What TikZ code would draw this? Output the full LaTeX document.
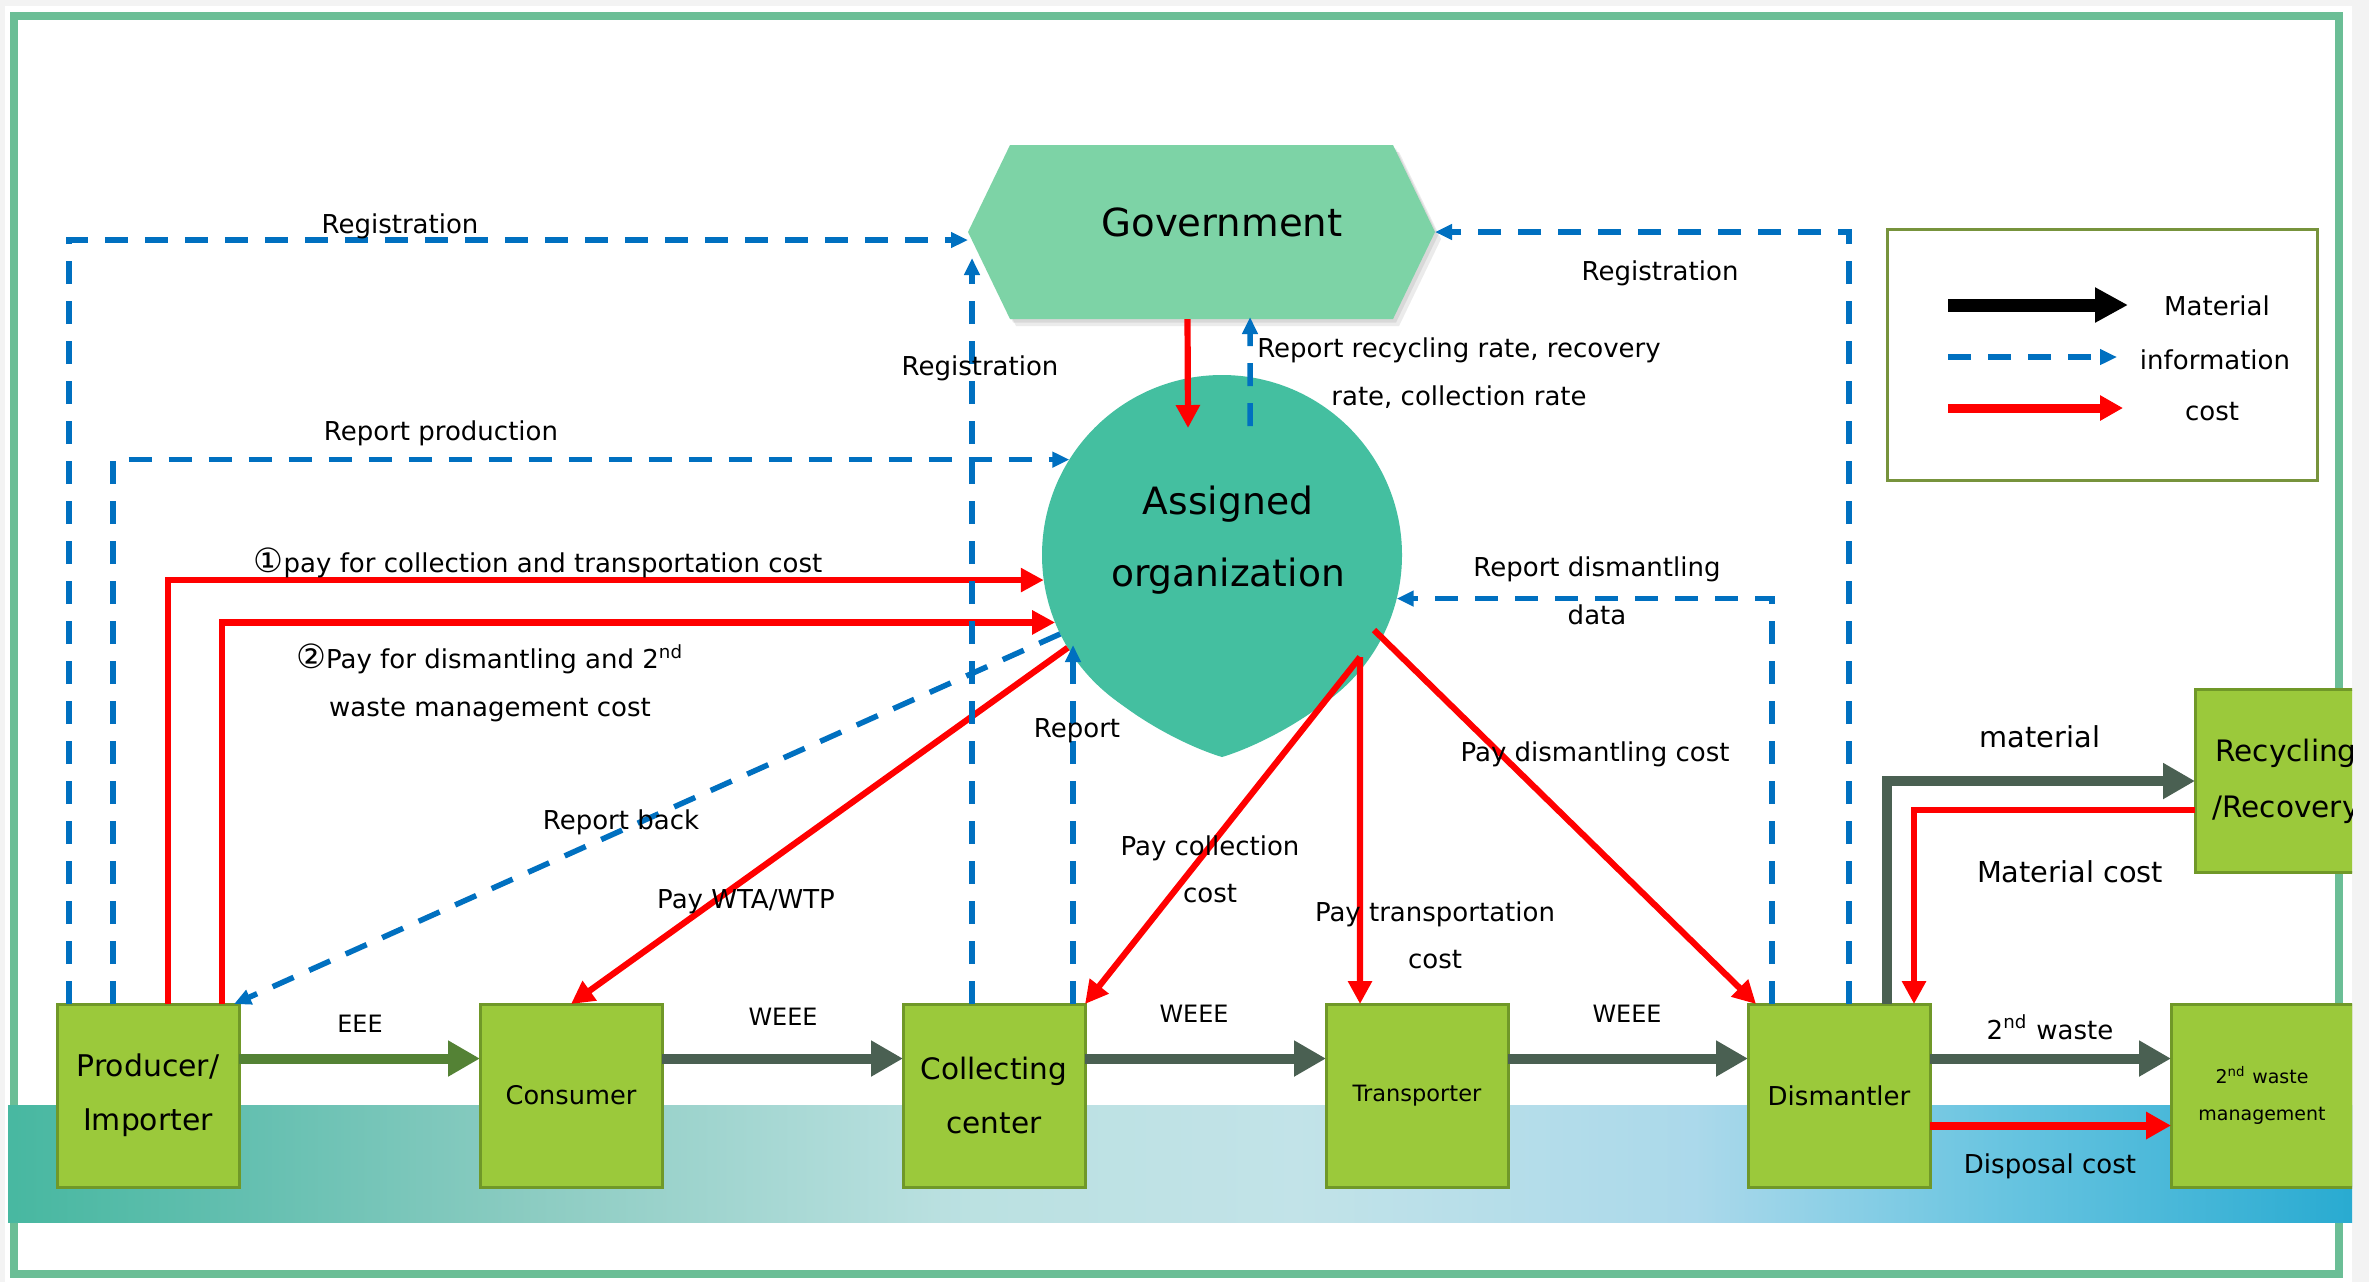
\documentclass[tikz,border=0pt]{standalone}
\usepackage{fontspec}
\setmainfont{DejaVu Sans}
\usetikzlibrary{arrows.meta,calc}
\definecolor{infoblue}{RGB}{0,112,192}
\definecolor{costred}{RGB}{255,0,0}
\definecolor{matgrey}{RGB}{74,96,82}
\definecolor{eeegreen}{RGB}{84,130,53}
\definecolor{boxfill}{RGB}{155,201,59}
\definecolor{boxline}{RGB}{112,152,40}
\definecolor{govfill}{RGB}{125,211,166}
\definecolor{aofill}{RGB}{68,191,160}
\definecolor{framegreen}{RGB}{107,190,150}
\definecolor{legline}{RGB}{119,147,60}
\definecolor{pagegrey}{RGB}{243,243,243}
\pgfdeclarehorizontalshading{bandshade}{100bp}{rgb(0bp)=(0.28,0.72,0.63); rgb(25bp)=(0.28,0.72,0.63); rgb(30bp)=(0.39,0.75,0.69); rgb(36.25bp)=(0.55,0.80,0.76); rgb(45bp)=(0.73,0.88,0.88); rgb(52.5bp)=(0.76,0.89,0.91); rgb(61bp)=(0.67,0.85,0.92); rgb(67.5bp)=(0.41,0.77,0.88); rgb(75bp)=(0.16,0.67,0.82); rgb(100bp)=(0.16,0.67,0.82)}
\begin{document}
\begin{tikzpicture}[x=0.1mm,y=-0.1mm,
  box/.style={draw=boxline, line width=0.3mm, fill=boxfill, minimum width=18.2mm, minimum height=18.3mm, inner sep=0pt, outer sep=0pt, align=center},
  lbl/.style={font=\fontsize{7.4}{13.5}\selectfont, align=center, inner sep=0pt},
  info/.style={draw=infoblue, line width=0.55mm, dash pattern=on 2.3mm off 1.7mm, -{Triangle[length=1.7mm,width=1.5mm]}},
  cost/.style={draw=costred, line width=0.62mm, -{Triangle[length=2.3mm,width=2.3mm]}},
  mat/.style={draw=matgrey, line width=1mm, -{Triangle[length=3.2mm,width=3.4mm]}}]
\useasboundingbox (0,0) rectangle (2369,1282);
% page
\fill[pagegrey] (0,0) rectangle (2369,1282);
\fill[white] (5,6) rectangle (2352,1282);
\draw[framegreen, line width=0.8mm] (14,16) rectangle (2339,1274);
\shade[shading=bandshade] (8,1105) rectangle (2352,1222);

% boxes
\node[box, font=\fontsize{8.5}{15.4}\selectfont] (prod) at (148,1095.5) {Producer/\\Importer};
\node[box, font=\fontsize{7.3}{13}\selectfont] (cons) at (571,1095.5) {Consumer};
\node[box, font=\fontsize{8.4}{15.4}\selectfont] (coll) at (994,1095.5) {Collecting\\center};
\node[box, font=\fontsize{6.4}{12}\selectfont] (trans) at (1417,1095.5) {Transporter};
\node[box, font=\fontsize{7.4}{13}\selectfont] (dism) at (1839,1095.5) {Dismantler};
\begin{scope}
\clip (0,0) rectangle (2352,1282);
\node[box, font=\fontsize{5.4}{10.7}\selectfont] (w2) at (2262,1095.5) {2\textsuperscript{nd} waste\\management};
\node[box, font=\fontsize{8.4}{15.9}\selectfont] (rec) at (2286,781) {Recycling\\/Recovery};
\end{scope}

% government hexagon
\node[minimum width=46.7mm, minimum height=17.4mm, inner sep=0pt, outer sep=0pt] (gov) at (1201.5,232) {};
\coordinate (h1) at (gov.west);
\coordinate (h2) at ($(gov.north west)+(42,0)$);
\coordinate (h3) at ($(gov.north east)+(-42,0)$);
\coordinate (h4) at (gov.east);
\coordinate (h5) at ($(gov.south east)+(-42,0)$);
\coordinate (h6) at ($(gov.south west)+(42,0)$);
\fill[black, opacity=0.08, transform canvas={xshift=0.6mm,yshift=-0.7mm}] (h1) -- (h2) -- (h3) -- (h4) -- (h5) -- (h6) -- cycle;
\fill[black, opacity=0.08, transform canvas={xshift=0.3mm,yshift=-0.35mm}] (h1) -- (h2) -- (h3) -- (h4) -- (h5) -- (h6) -- cycle;
\fill[govfill] (h1) -- (h2) -- (h3) -- (h4) -- (h5) -- (h6) -- cycle;
\node[font=\fontsize{11}{13}\selectfont, inner sep=0pt] (govt) at (1222,222) {Government};

% assigned organization
\node[circle, fill=aofill, minimum size=36mm, inner sep=0pt, outer sep=0pt] (ao) at (1222,555) {};
\fill[aofill] ($(ao.center)+(-147,103)$) .. controls ($(ao.center)+(-113,152)$) and ($(ao.center)+(-40,190)$) .. ($(ao.center)+(0,202)$) .. controls ($(ao.center)+(40,190)$) and ($(ao.center)+(113,152)$) .. ($(ao.center)+(147,103)$) -- cycle;
\node[font=\fontsize{10.7}{20.6}\selectfont, align=center, inner sep=0pt] (aot) at (1228,540) {Assigned\\organization};

% legend
\node[draw=legline, line width=0.3mm, minimum width=43mm, minimum height=25.1mm, inner sep=0pt] (leg) at (2102,354.5) {};
\node[lbl] (lgm) at (2217,306) {Material};
\node[lbl] (lgi) at (2215,360) {information};
\node[lbl] (lgc) at (2212,412) {cost};
\coordinate (lma) at (1948,305); \coordinate (lmb) at (2128,305);
\coordinate (lia) at (1948,357); \coordinate (lib) at (2117,357);
\coordinate (lca) at (1948,408); \coordinate (lcb) at (2123,408);
\draw[black, line width=1.3mm, -{Triangle[length=3.3mm,width=3.3mm]}] (lma) -- (lmb);
\draw[info] (lia) -- (lib);
\draw[costred, line width=0.9mm, -{Triangle[length=2.3mm,width=2.4mm]}] (lca) -- (lcb);

% connectors
\draw[info] ($(prod.north west)+(12,0)$) |- ($(gov.west)+(0,8)$);
\draw[info] ($(prod.north west)+(56,0)$) |- (ao.148.5);
\draw[cost] ($(prod.north west)+(111,0)$) |- (ao.188);
\draw[cost] ($(prod.north west)+(165,0)$) |- (ao.202.5);
\draw[info] (ao.206) -- ($(prod.north east)+(-5,0)$);
\draw[cost] (ao.211) -- (cons.north);
\coordinate (r2s) at ($(coll.north west)+(69,0)$);
\coordinate (r2e) at ($(gov.west)+(4,26)$);
\draw[info] (r2s) -- (r2s |- r2e);
\coordinate (r3s) at ($(coll.north west)+(170,0)$);
\draw[info] (r3s) -- (r3s |- ao.210);
\draw[cost] ($(gov.south)+(-14,0)$) -- ($(ao.north)+(-34,53)$);
\draw[info] ($(ao.north)+(28,51)$) -- ($(gov.south)+(48.5,-2)$);
\coordinate (aopay) at ($(ao.center)+(138,102)$);
\draw[cost] (aopay) -- (coll.north east);
\draw[cost] (aopay) -- ($(trans.north west)+(34,0)$);
\draw[cost] ($(ao.center)+(152,75)$) -- ($(dism.north west)+(8,0)$);
\draw[info] ($(dism.north west)+(24,0)$) |- (ao.-14.8);
\draw[info] ($(dism.north west)+(101,0)$) |- (gov.east);
\draw[mat] ($(dism.north west)+(139,0)$) |- (rec.west);
\draw[cost] ($(rec.west)+(0,29)$) -| ($(dism.north west)+(166,0)$);
\draw[mat, draw=eeegreen] ($(prod.east)+(0,-37)$) -- ($(cons.west)+(0,-37)$);
\draw[mat] ($(cons.east)+(0,-37)$) -- ($(coll.west)+(0,-37)$);
\draw[mat] ($(coll.east)+(0,-37)$) -- ($(trans.west)+(0,-37)$);
\draw[mat] ($(trans.east)+(0,-37)$) -- ($(dism.west)+(0,-37)$);
\draw[mat] ($(dism.east)+(0,-37)$) -- ($(w2.west)+(0,-37)$);
\draw[cost, line width=0.8mm, -{Triangle[length=2.5mm,width=2.6mm]}] ($(dism.east)+(0,30)$) -- ($(w2.west)+(0,30)$);

% labels
\node[lbl] (lreg1) at (400,226) {Registration};
\node[lbl] (lrprod) at (441,433) {Report production};
\node[lbl] (lpay1) at (538,563) {{\fontsize{9.5}{9.5}\selectfont ①}pay for collection and transportation cost};
\node[lbl] (lpay2) at (490,683) {{\fontsize{9.5}{9.5}\selectfont ②}Pay for dismantling and 2\textsuperscript{nd}\\waste management cost};
\node[lbl] (lrback) at (621,822) {Report back};
\node[lbl] (lwta) at (746,902) {Pay WTA/WTP};
\node[lbl] (lreg2) at (980,368) {Registration};
\node[lbl] (lrep) at (1077,731) {Report};
\node[lbl] (lpcol) at (1210,869) {Pay collection\\cost};
\node[lbl] (lptr) at (1435,935) {Pay transportation\\cost};
\node[lbl] (lpdis) at (1595,754) {Pay dismantling cost};
\node[lbl] (lrdis) at (1597,591) {Report dismantling\\data};
\node[lbl] (lreg3) at (1660,273) {Registration};
\node[lbl] (lrrr) at (1459,373) {Report recycling rate, recovery\\rate, collection rate};
\node[lbl, font=\fontsize{6.8}{12}\selectfont] (leee) at (360,1024) {EEE};
\node[lbl, font=\fontsize{6.8}{12}\selectfont] (lw1) at (783,1017) {WEEE};
\node[lbl, font=\fontsize{6.8}{12}\selectfont] (lw2) at (1194,1014) {WEEE};
\node[lbl, font=\fontsize{6.8}{12}\selectfont] (lw3) at (1627,1014) {WEEE};
\node[lbl] (l2w) at (2050,1027) {2\textsuperscript{nd} waste};
\node[lbl, font=\fontsize{8.2}{14}\selectfont] (lmat) at (2040,737) {material};
\node[lbl, font=\fontsize{8.2}{14}\selectfont] (lmc) at (2070,872) {Material cost};
\node[lbl] (ldisp) at (2050,1166) {Disposal cost};
\end{tikzpicture}
\end{document}
